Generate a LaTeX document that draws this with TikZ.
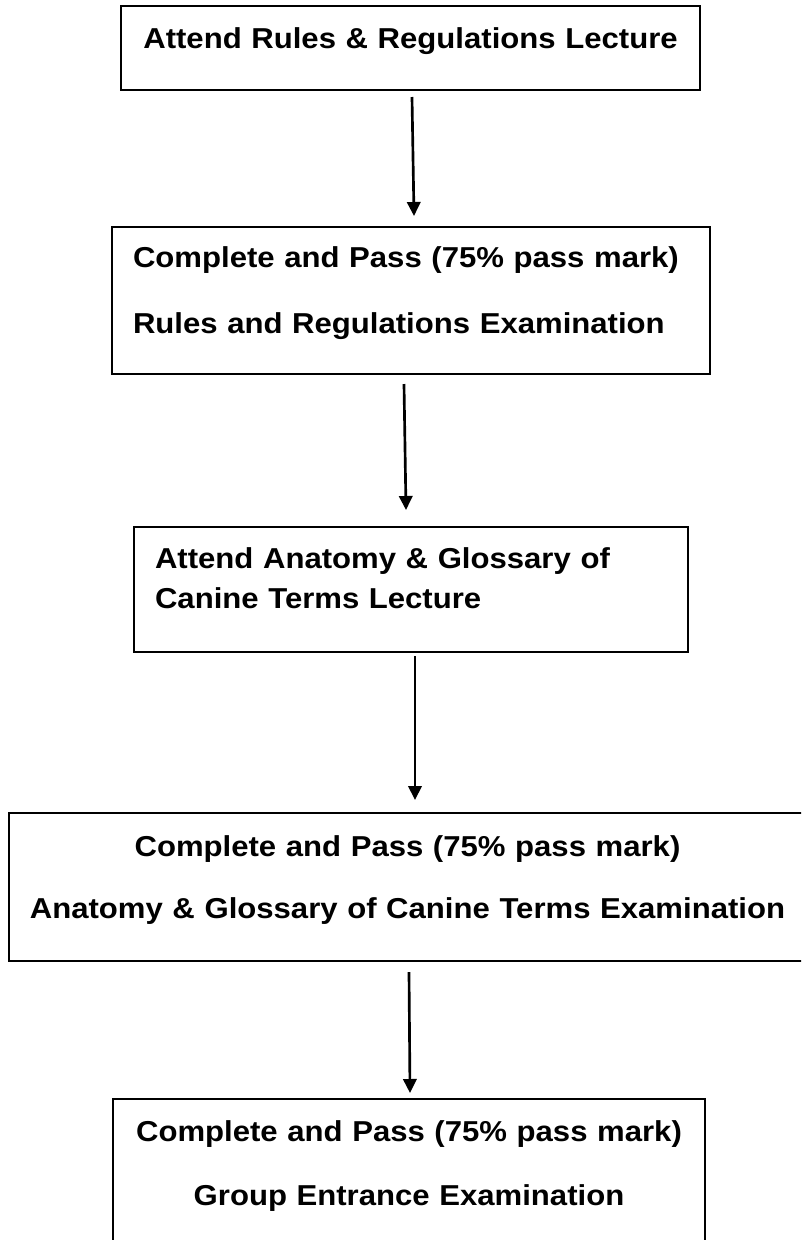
\documentclass[tikz,border=0pt]{standalone}
\usepackage{fontspec}
\setmainfont{Liberation Sans}[FakeStretch=1.08]
\usetikzlibrary{arrows.meta}

\begin{document}
\begin{tikzpicture}[x=0.75pt, y=-0.75pt,
  box/.style={draw, line width=1.3pt, inner sep=0pt, outer sep=0pt, anchor=north west},
  lbl/.style={font=\fontsize{21.6pt}{#1}\selectfont\bfseries},
  flow/.style={-{Triangle[width=10pt, length=10.5pt]}, line width=2pt}]
\useasboundingbox (0,0) rectangle (801,1240);
\clip (0,0) rectangle (801,1240);

% steps
\node (rules) [box, lbl=26pt, inner xsep=7.5pt, text width=419.25pt, align=center, text height=31.5pt, text depth=31.5pt] at (121,6) {Attend Rules \& Regulations Lecture};
\node (rexam) [box, lbl=49.5pt, inner xsep=15.75pt, text width=417pt, align=left, text height=30pt, text depth=80.25pt] at (112,227) {Complete and Pass (75\% pass mark)\\Rules and Regulations Examination};
\node (anat) [box, lbl=30pt, inner xsep=15.75pt, text width=384pt, align=left, text height=30.75pt, text depth=63pt] at (134,527) {Attend Anatomy \& Glossary of\\Canine Terms Lecture};
\node (aexam) [box, lbl=46.5pt, inner xsep=3.75pt, text width=590.25pt, align=center, text height=32.25pt, text depth=78.75pt] at (9,813) {Complete and Pass (75\% pass mark)\\Anatomy \& Glossary of Canine Terms Examination};
\node (group) [box, lbl=48pt, inner xsep=7.5pt, text width=429pt, align=center, text height=31.5pt, text depth=85.5pt] at (113,1099) {Complete and Pass (75\% pass mark)\\Group Entrance Examination};

% arrows
\draw[flow] ([shift={(1.5,7)}]rules.south) -- ([shift={(3,-11)}]rexam.north);
\draw[flow] ([shift={(-7,10)}]rexam.south) -- ([shift={(-5,-17)}]anat.north);
\draw[flow] ([shift={(4,4)}]anat.south) -- ([shift={(7.5,-13)}]aexam.north);
\draw[flow] ([shift={(1.5,11)}]aexam.south) -- ([shift={(1,-6)}]group.north);
\end{tikzpicture}
\end{document}
